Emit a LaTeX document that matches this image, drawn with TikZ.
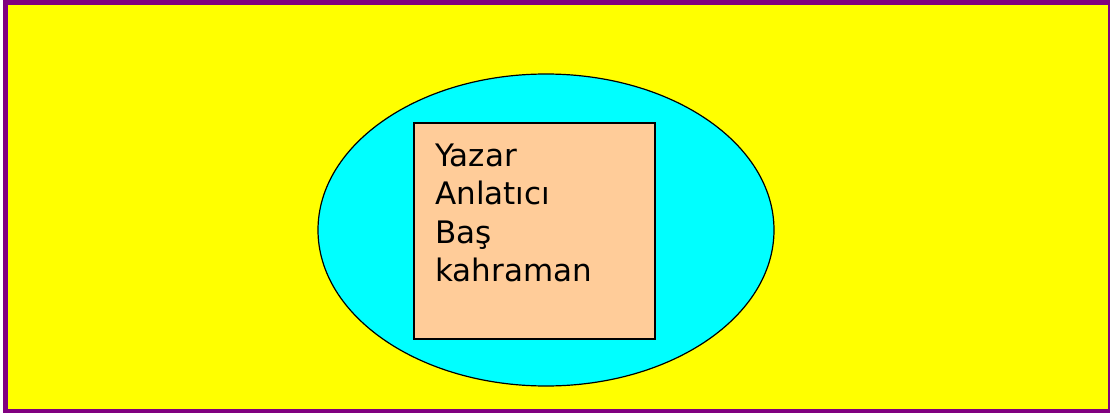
\documentclass[tikz,border=0pt]{standalone}
\usepackage{fontspec}
\setmainfont{DejaVu Sans}
\usetikzlibrary{shapes.geometric}
\definecolor{bgyellow}{HTML}{FFFF00}
\definecolor{framepurple}{HTML}{800080}
\definecolor{ellcyan}{HTML}{00FFFF}
\definecolor{peach}{HTML}{FFCC99}
\tikzset{
  frame/.style={fill=bgyellow, draw=framepurple, line width=4.5pt},
  oval/.style={ellipse, fill=ellcyan, draw=black, line width=1.2pt, inner sep=0pt,
    minimum width=456pt, minimum height=312pt},
  box/.style={rectangle, fill=peach, draw=black, line width=1.5pt, inner sep=0pt,
    minimum width=241pt, minimum height=216pt},
  word/.style={anchor=base west, inner sep=0pt, font=\fontsize{31}{38.5}\selectfont}
}
\begin{document}
\begin{tikzpicture}[x=1pt,y=-1pt]
\useasboundingbox (0,0) rectangle (1110,412);
\begin{scope}
\clip (0,0) rectangle (1110,412);
\draw[frame] (5.5,2.3) rectangle (1110.5,411);
\end{scope}
\node[oval] (ell) at (546,230) {};
\node[box] (sq) at (534.5,231) {};
\node[word] (l1) at (435,166) {Yazar};
\node[word] (l2) at (435,204.6) {Anlatıcı};
\node[word] (l3) at (435,243.2) {Baş};
\node[word] (l4) at (435,281.8) {kahraman};
\end{tikzpicture}
\end{document}
